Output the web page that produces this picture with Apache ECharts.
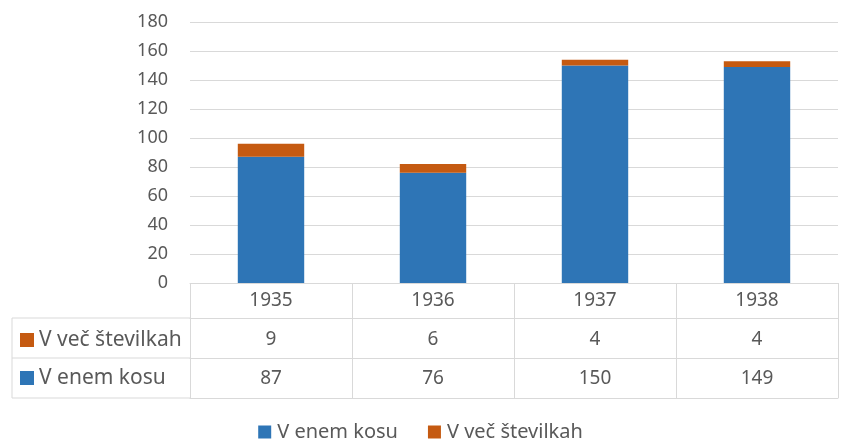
<!DOCTYPE html>
<html>
<head>
<meta charset="utf-8">
<script src="https://cdn.jsdelivr.net/npm/echarts@6/dist/echarts.min.js"></script>
<style>
  html, body { margin: 0; padding: 0; background: #fff; }
  #chart { width: 841px; height: 444px; }
</style>
</head>
<body>
<div id="chart"></div>
<script>
// podatki
const years = ["1935", "1936", "1937", "1938"];
const enemKosu = [87, 76, 150, 149];
const vecStevilkah = [9, 6, 4, 4];

const BLUE = "#2E75B6";
const ORANGE = "#C55A11";
const LINE = "#d9d9d9";
const TEXT = "#595959";
const FONT = "Noto Sans";

const chart = echarts.init(document.getElementById("chart"));

// vrstice tabele pod osjo
function tableAxis(offset, labels, margin) {
  return {
    type: "category",
    data: years,
    position: "bottom",
    offset: offset,
    axisLine: { show: true, lineStyle: { color: LINE, width: 1 } },
    axisTick: { show: false },
    axisLabel: {
      show: !!labels,
      margin: margin || 0,
      verticalAlign: "middle",
      color: TEXT,
      fontSize: 19,
      fontFamily: FONT,
      formatter: (v, i) => (labels ? String(labels[i]) : "")
    },
    splitLine: { show: false }
  };
}

const option = {
  animation: false,
  textStyle: { fontFamily: FONT },
  grid: { left: 190, right: 3, top: 22, bottom: 161, containLabel: false },
  legend: {
    bottom: -3,
    left: "center",
    data: ["V enem kosu", "V več številkah"],
    icon: "rect",
    itemWidth: 13,
    itemHeight: 13,
    itemGap: 30,
    textStyle: { color: TEXT, fontSize: 20, fontFamily: FONT, padding: [0, 0, 0, 1] }
  },
  xAxis: [
    {
      type: "category",
      data: years,
      axisLine: { show: true, lineStyle: { color: LINE } },
      axisTick: { show: true, length: 115, lineStyle: { color: LINE } },
      axisLabel: {
        margin: 18,
        verticalAlign: "middle",
        color: TEXT,
        fontSize: 19,
        fontFamily: FONT
      }
    },
    tableAxis(35, vecStevilkah, 22),
    tableAxis(75, enemKosu, 21),
    tableAxis(115, null, 0)
  ],
  yAxis: {
    type: "value",
    min: 0,
    max: 180,
    interval: 20,
    axisLine: { show: false },
    axisTick: { show: false },
    axisLabel: { color: TEXT, fontSize: 18, fontFamily: FONT, margin: 22 },
    splitLine: { lineStyle: { color: LINE } }
  },
  series: [
    {
      name: "V enem kosu",
      type: "bar",
      stack: "skupaj",
      barWidth: "41%",
      itemStyle: { color: BLUE },
      data: enemKosu
    },
    {
      name: "V več številkah",
      type: "bar",
      stack: "skupaj",
      barWidth: "41%",
      itemStyle: { color: ORANGE },
      data: vecStevilkah
    }
  ],
  graphic: [
    // levi stolpec tabele
    { type: "line", shape: { x1: 12, y1: 318, x2: 190, y2: 318 }, style: { stroke: LINE, lineWidth: 1 } },
    { type: "line", shape: { x1: 12, y1: 358, x2: 190, y2: 358 }, style: { stroke: LINE, lineWidth: 1 } },
    { type: "line", shape: { x1: 12, y1: 398, x2: 190, y2: 398 }, style: { stroke: LINE, lineWidth: 1 } },
    { type: "line", shape: { x1: 12, y1: 318, x2: 12, y2: 398 }, style: { stroke: LINE, lineWidth: 1 } },
    { type: "rect", shape: { x: 20, y: 333, width: 14, height: 14 }, style: { fill: ORANGE } },
    { type: "text", x: 39, y: 340, style: { text: "V več številkah", fill: TEXT, fontSize: 21, fontFamily: FONT, verticalAlign: "middle" } },
    { type: "rect", shape: { x: 20, y: 371, width: 14, height: 14 }, style: { fill: BLUE } },
    { type: "text", x: 39, y: 378, style: { text: "V enem kosu", fill: TEXT, fontSize: 21, fontFamily: FONT, verticalAlign: "middle" } }
  ]
};

chart.setOption(option);
</script>
</body>
</html>
